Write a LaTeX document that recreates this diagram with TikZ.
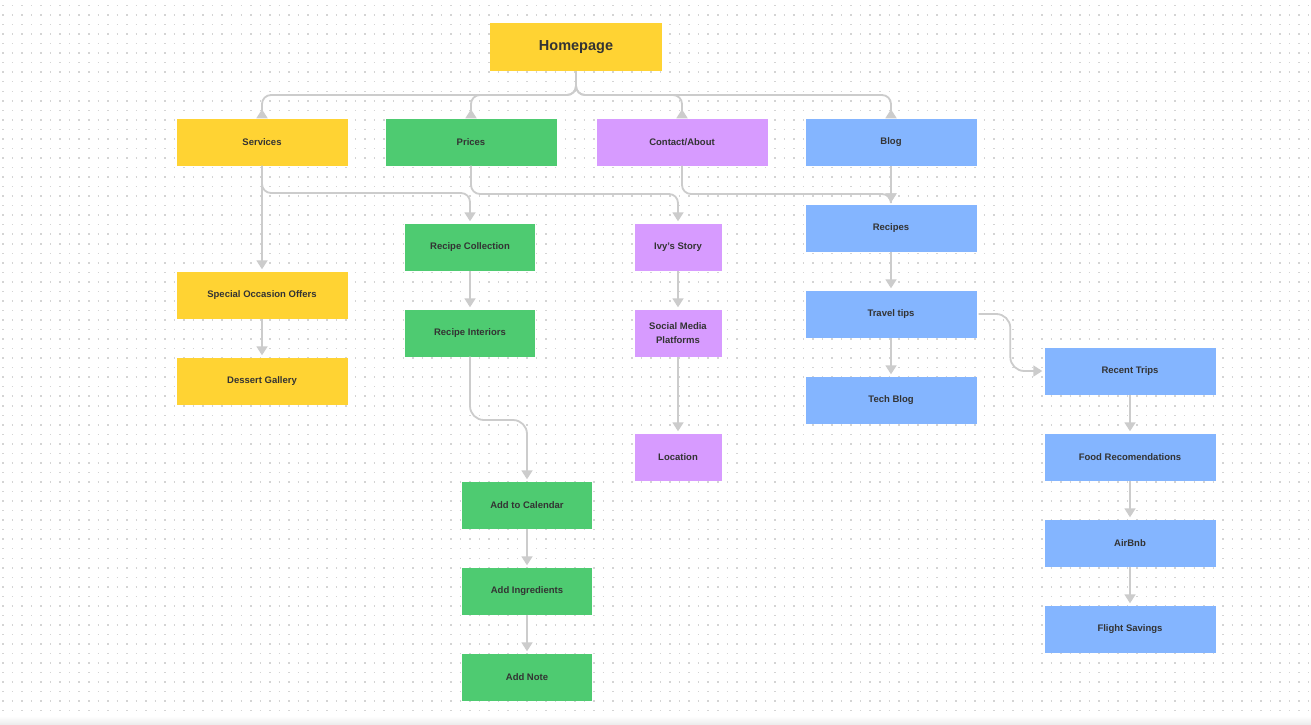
\documentclass[tikz,border=0pt]{standalone}
\usepackage{fontspec}
\setmainfont{Liberation Sans}
\usetikzlibrary{arrows.meta}
\definecolor{ivyyellow}{RGB}{255,211,51}
\definecolor{ivygreen}{RGB}{78,203,113}
\definecolor{ivypurple}{RGB}{215,155,255}
\definecolor{ivyblue}{RGB}{132,181,255}
\definecolor{ivyline}{RGB}{204,204,204}
\definecolor{ivydot}{RGB}{212,212,212}
\definecolor{ivytext}{RGB}{51,51,51}
\begin{document}
\begin{tikzpicture}[x=1pt,y=-1pt,
page/.style={minimum width=171pt,minimum height=47pt,inner sep=0pt,align=center,text=ivytext,
  font=\fontsize{9.5}{14}\selectfont\bfseries},
narrow/.style={page,minimum width=130pt},
slim/.style={page,minimum width=87pt},
link/.style={draw=ivyline,line width=1.8pt,rounded corners=9pt,shorten >=2pt,
  -{Triangle[width=11pt,length=9pt]}},
uplink/.style={draw=ivyline,line width=1.8pt,rounded corners=9pt,
  -{Triangle[width=11pt,length=9pt,reversed]}}
]
\useasboundingbox (0,0) rectangle (1311,724);
\fill[white] (0,0) rectangle (1311,724);
% dotted canvas
\foreach \r in {0,...,75}
  \draw[ivydot,line width=1.5pt,dash pattern=on 1.5pt off 8.03pt] (2.25,{5.5+9.53*\r}) -- (1311,{5.5+9.53*\r});
\shade[top color=white,bottom color=black!7] (0,716) rectangle (1311,724);

\node[page,fill=ivyyellow,minimum width=172pt,minimum height=48pt,
  font=\fontsize{14.5}{16}\selectfont\bfseries] (home) at (576,47) {Homepage};
\node[page,fill=ivyyellow] (services) at (262,142) {Services};
\node[page,fill=ivygreen] (prices) at (471,142) {Prices};
\node[page,fill=ivypurple] (contact) at (682,142) {Contact/About};
\node[page,fill=ivyblue] (blog) at (891,142) {Blog};

\node[page,fill=ivyyellow] (special) at (262,295) {Special Occasion Offers};
\node[page,fill=ivyyellow] (dessert) at (262,381) {Dessert Gallery};

\node[narrow,fill=ivygreen] (rcoll) at (470,247) {Recipe Collection};
\node[narrow,fill=ivygreen] (rint) at (470,333) {Recipe Interiors};
\node[narrow,fill=ivygreen] (addcal) at (527,505) {Add to Calendar};
\node[narrow,fill=ivygreen] (adding) at (527,591) {Add Ingredients};
\node[narrow,fill=ivygreen] (addnote) at (527,677) {Add Note};

\node[slim,fill=ivypurple] (ivy) at (678,247) {Ivy’s Story};
\node[slim,fill=ivypurple] (social) at (678,333) {Social Media\\Platforms};
\node[slim,fill=ivypurple] (location) at (678,457) {Location};

\node[page,fill=ivyblue] (recipes) at (891,228) {Recipes};
\node[page,fill=ivyblue] (travel) at (891,314) {Travel tips};
\node[page,fill=ivyblue] (tech) at (891,400) {Tech Blog};
\node[page,fill=ivyblue] (recent) at (1130,371) {Recent Trips};
\node[page,fill=ivyblue] (food) at (1130,457) {Food Recomendations};
\node[page,fill=ivyblue] (airbnb) at (1130,543) {AirBnb};
\node[page,fill=ivyblue] (flight) at (1130,629) {Flight Savings};

\foreach \b in {services,prices,contact,blog}
  \draw[uplink] (home.south) |- (\b.north |- 0,95) -- (\b.north);

\draw[link] (services.south) |- (rcoll.north |- 0,193) -- (rcoll.north);
\draw[link] (prices.south) |- (ivy.north |- 0,194) -- (ivy.north);
\draw[link] (contact.south) |- (recipes.north |- 0,194) -- (recipes.north);
\draw[link] (blog.south) -- (recipes.north);

\foreach \a/\b in {services/special,special/dessert,rcoll/rint,addcal/adding,adding/addnote,
  ivy/social,social/location,recipes/travel,travel/tech,recent/food,food/airbnb,airbnb/flight}
  \draw[link] (\a.south) -- (\b.north);

\draw[link,rounded corners=14pt] (rint.south) |- (addcal.north |- 0,420) -- (addcal.north);
\draw[link,rounded corners=14pt,shorten <=2pt] (travel.east) -| ([xshift=-34pt]recent.west) -- (recent.west);
\end{tikzpicture}
\end{document}
